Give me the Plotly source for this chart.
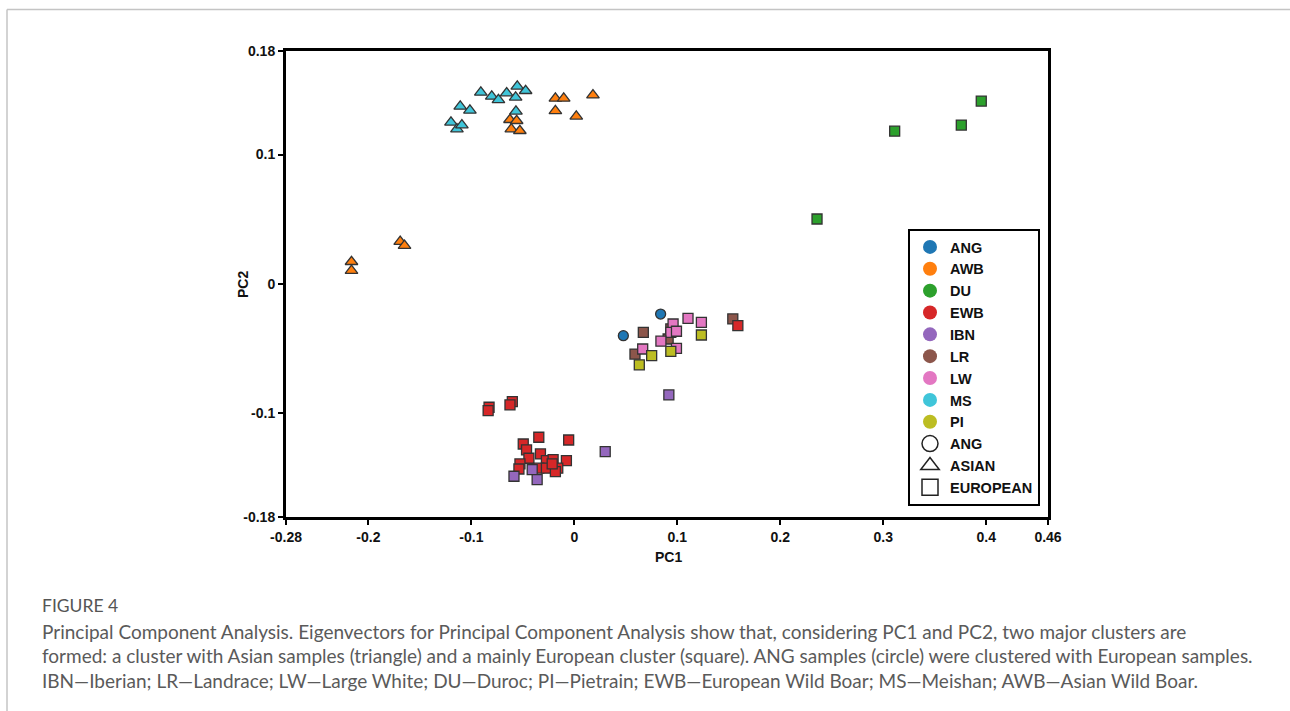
import plotly.graph_objects as go

# ---------------- data ----------------
ANG_x = [0.0838, 0.0476]
ANG_y = [-0.0232, -0.0399]

AWB_x = [-0.0625, -0.0560, -0.0612, -0.0529, -0.0184, -0.0103, 0.0181, -0.0184, 0.0019,
         -0.2164, -0.2164, -0.1691, -0.1649]
AWB_y = [0.1269, 0.1261, 0.1197, 0.1184, 0.1434, 0.1434, 0.1459, 0.1338, 0.1295,
         0.0172, 0.0103, 0.0327, 0.0296]

MS_x = [-0.0908, -0.0802, -0.0737, -0.0657, -0.0554, -0.0473, -0.0570, -0.1108, -0.1014,
        -0.1198, -0.1140, -0.1092, -0.0567]
MS_y = [0.1480, 0.1449, 0.1423, 0.1475, 0.1527, 0.1493, 0.1442, 0.1372, 0.1341,
        0.1249, 0.1197, 0.1228, 0.1334]

DU_x = [0.3111, 0.3758, 0.3952, 0.2357]
DU_y = [0.1181, 0.1228, 0.1413, 0.0502]

LR_x = [0.0670, 0.0589, 0.1539, 0.0911, 0.0937]
LR_y = [-0.0373, -0.0541, -0.0270, -0.0425, -0.0347]

EWB_x = [0.1588, -0.0828, -0.0837, -0.0602, -0.0625, -0.0345, -0.0055, -0.0496, -0.0464,
         -0.0441, -0.0329, -0.0271, -0.0206, -0.0077, -0.0528, -0.0538, -0.0345, -0.0271,
         -0.0161, -0.0184, -0.0215]
EWB_y = [-0.0322, -0.0952, -0.0978, -0.0909, -0.0934, -0.1184, -0.1205, -0.1236, -0.1282,
         -0.1346, -0.1313, -0.1364, -0.1357, -0.1364, -0.1390, -0.1429, -0.1423, -0.1423,
         -0.1423, -0.1449, -0.1390]

IBN_x = [0.0918, 0.0300, -0.0409, -0.0586, -0.0361]
IBN_y = [-0.0857, -0.1295, -0.1434, -0.1485, -0.1511]

LW_x = [0.1104, 0.1234, 0.0959, 0.0937, 0.0992, 0.0841, 0.0992, 0.0664]
LW_y = [-0.0265, -0.0296, -0.0309, -0.0373, -0.0365, -0.0442, -0.0497, -0.0502]

PI_x = [0.1234, 0.0751, 0.0937, 0.0631]
PI_y = [-0.0394, -0.0554, -0.0520, -0.0625]

x_ticks = [-0.28, -0.2, -0.1, 0, 0.1, 0.2, 0.3, 0.4, 0.46]
x_ticktext = ["-0.28", "-0.2", "-0.1", "0", "0.1", "0.2", "0.3", "0.4", "0.46"]
y_ticks = [-0.18, -0.1, 0, 0.1, 0.18]
y_ticktext = ["-0.18", "-0.1", "0", "0.1", "0.18"]

legend_pops = ["ANG", "AWB", "DU", "EWB", "IBN", "LR", "LW", "MS", "PI"]
legend_shapes = [("ANG", "circle-open"), ("ASIAN", "triangle-up-open"), ("EUROPEAN", "square-open")]

colors = {
    "ANG": "#1f77b4", "AWB": "#ff7f0e", "DU": "#2ca02c", "EWB": "#d62728",
    "IBN": "#9467bd", "LR": "#8c564b", "LW": "#e377c2", "MS": "#3fc5d9", "PI": "#bcbd22",
}

x_title = "PC1"
y_title = "PC2"
caption_title = "FIGURE 4"
caption_lines = [
    "Principal Component Analysis. Eigenvectors for Principal Component Analysis show that, considering PC1 and PC2, two major clusters are",
    "formed: a cluster with Asian samples (triangle) and a mainly European cluster (square). ANG samples (circle) were clustered with European samples.",
    "IBN\u2014Iberian; LR\u2014Landrace; LW\u2014Large White; DU\u2014Duroc; PI\u2014Pietrain; EWB\u2014European Wild Boar; MS\u2014Meishan; AWB\u2014Asian Wild Boar.",
]

# ---------------- figure ----------------
W, H = 1290, 711
L, R, T, B = 286, 1048, 51, 517  # plot area in pixels


def px(xp):
    return (xp - L) / (R - L)


def py(yp):
    return (B - yp) / (B - T)


fig = go.Figure()

EDGE = dict(color="#333333", width=1.3)

series = [
    ("LR", LR_x, LR_y, "square", 10),
    ("EWB", EWB_x, EWB_y, "square", 10),
    ("IBN", IBN_x, IBN_y, "square", 10),
    ("LW", LW_x, LW_y, "square", 10),
    ("PI", PI_x, PI_y, "square", 10),
    ("DU", DU_x, DU_y, "square", 10),
    ("ANG", ANG_x, ANG_y, "circle", 10),
    ("MS", MS_x, MS_y, "triangle-up", 11),
    ("AWB", AWB_x, AWB_y, "triangle-up", 11),
]
for name, xs, ys, sym, sz in series:
    fig.add_trace(go.Scatter(
        x=xs, y=ys, mode="markers", name=name, showlegend=False,
        marker=dict(symbol=sym, size=sz, color=colors[name], line=EDGE),
        hoverinfo="x+y+name",
    ))

# legend entries
for name in legend_pops:
    fig.add_trace(go.Scatter(
        x=[None], y=[None], mode="markers", name=name, showlegend=True,
        marker=dict(symbol="circle", size=14, color=colors[name], line=dict(width=0)),
    ))
for name, sym in legend_shapes:
    fig.add_trace(go.Scatter(
        x=[None], y=[None], mode="markers", name=name, showlegend=True,
        marker=dict(symbol=sym, size=16, color="#222222", line=dict(width=1.5, color="#222222")),
    ))

AX_FAMILY = "Arial, Liberation Sans, sans-serif"
axis_font = dict(family=AX_FAMILY, size=14, color="#111111", weight="bold")
title_font = dict(family=AX_FAMILY, size=14, color="#111111", weight="bold")

fig.update_xaxes(
    range=[-0.28, 0.46], tickvals=x_ticks, ticktext=x_ticktext,
    showgrid=False, zeroline=False, showline=True, linecolor="black", linewidth=3, mirror=True,
    ticks="outside", ticklen=5, tickwidth=1.5, tickcolor="black", tickfont=axis_font,
)
fig.update_yaxes(
    range=[-0.18, 0.18], tickvals=y_ticks, ticktext=y_ticktext,
    showgrid=False, zeroline=False, showline=True, linecolor="black", linewidth=3, mirror=True,
    ticks="outside", ticklen=5, tickwidth=1.5, tickcolor="black", tickfont=axis_font,
)

CAP_FAMILY = "Lato, Open Sans, sans-serif"
annotations = [
    dict(text=x_title, x=px(668), y=py(557), xref="paper", yref="paper", xanchor="center",
         yanchor="middle", showarrow=False, font=title_font),
    dict(text=y_title, x=px(243), y=py(285), xref="paper", yref="paper", xanchor="center",
         yanchor="middle", showarrow=False, textangle=-90, font=title_font),
    dict(text=caption_title, x=px(40), y=py(605), xref="paper", yref="paper", xanchor="left",
         yanchor="middle", showarrow=False,
         font=dict(family=CAP_FAMILY, size=17.5, color="#555555")),
]
for i, line in enumerate(caption_lines):
    annotations.append(dict(
        text=line, x=px(40), y=py(631 + i * 24.5), xref="paper", yref="paper", xanchor="left",
        yanchor="middle", showarrow=False,
        font=dict(family=CAP_FAMILY, size=19, color="#5a5a5a"),
    ))

shapes = [
    dict(type="line", xref="paper", yref="paper", x0=px(7), x1=px(1290), y0=py(9.5), y1=py(9.5),
         line=dict(color="#c4c4c4", width=1.5)),
    dict(type="line", xref="paper", yref="paper", x0=px(7), x1=px(7), y0=py(9.5), y1=py(711),
         line=dict(color="#c4c4c4", width=1.5)),
]

fig.update_layout(
    width=W, height=H, autosize=False,
    margin=dict(l=L, r=W - R, t=T, b=H - B, pad=0),
    paper_bgcolor="white", plot_bgcolor="white",
    showlegend=True,
    legend=dict(
        x=px(908), y=py(229), xanchor="left", yanchor="top",
        bordercolor="black", borderwidth=2, bgcolor="white",
        font=dict(family=AX_FAMILY, size=14.5, color="#111111", weight="bold"),
        traceorder="normal", itemsizing="trace",
    ),
    annotations=annotations,
    shapes=shapes,
)

fig.write_html("out.html")
